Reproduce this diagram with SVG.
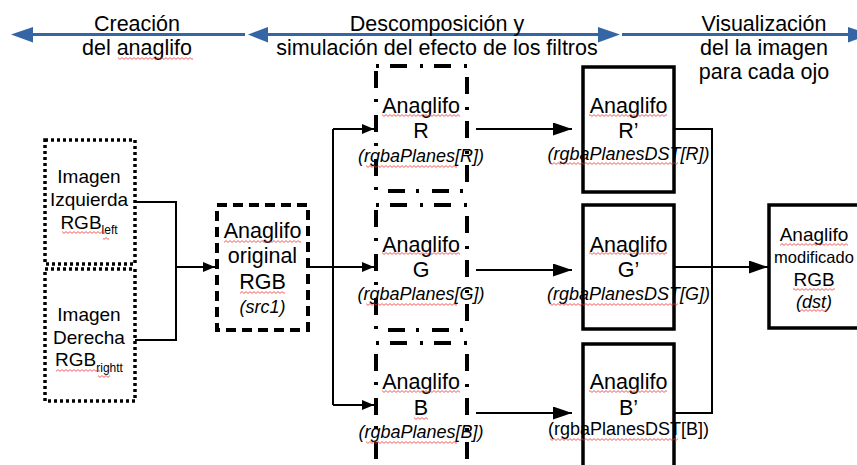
<svg xmlns="http://www.w3.org/2000/svg" width="857" height="465" viewBox="0 0 857 465">
<style>
text{font-family:"Liberation Sans",Arial,sans-serif;fill:#000;text-anchor:middle}
.h{font-size:21.5px}
.b{font-size:21.5px}
.s{font-size:19px}
.i{font-size:18px;font-style:italic}
.n{font-size:18px}
.dot{fill:#fff;stroke:#000;stroke-width:3.5;stroke-dasharray:3 3}
.dash{fill:#fff;stroke:#000;stroke-width:4;stroke-dasharray:10 6}
.dd{fill:#fff;stroke:#000;stroke-width:4;stroke-dasharray:3 11 17 13}
.sol{fill:#fff;stroke:#000;stroke-width:3.5}
.c{fill:none;stroke:#000;stroke-width:2}
.bl{stroke:#3465a4;stroke-width:3;fill:none}
.bh{fill:#3465a4}
.sq{fill:url(#sq)}
</style>
<defs>
<marker id="a1" markerUnits="userSpaceOnUse" markerWidth="12" markerHeight="10" refX="12" refY="5" orient="auto"><path d="M0,0 L12,5 L0,10z" fill="#000"/></marker>
<marker id="a2" markerUnits="userSpaceOnUse" markerWidth="19" markerHeight="13" refX="19" refY="6.5" orient="auto"><path d="M0,0 L19,6.5 L0,13z" fill="#000"/></marker>
<pattern id="sq" width="4" height="3" patternUnits="userSpaceOnUse"><path d="M0,2.4 L2,0.6 L4,2.4" fill="none" stroke="#e33" stroke-width="0.8"/></pattern>
</defs>

<g id="header">
<line class="bl" x1="30" y1="34.5" x2="245" y2="34.5"/>
<polygon class="bh" points="11,34.5 33,27 33,42.5"/>
<line class="bl" x1="265" y1="34.5" x2="600" y2="34.5"/>
<polygon class="bh" points="248,34.5 268,27 268,42.5"/>
<polygon class="bh" points="620,34.5 598,27 598,42.5"/>
<line class="bl" x1="622" y1="34.5" x2="850" y2="34.5"/>
<polygon class="bh" points="870,34.5 848,27 848,42.5"/>
<text class="h" x="137" y="31">Creación</text>
<text class="h" x="137" y="55">del anaglifo</text>
<text class="h" x="437" y="31">Descomposición y</text>
<text class="h" x="437" y="55">simulación del efecto de los filtros</text>
<text class="h" x="764" y="31">Visualización</text>
<text class="h" x="764" y="55">del la imagen</text>
<text class="h" x="764" y="79">para cada ojo</text>
</g>

<g id="connectors">
<path class="c" d="M135,202 H176 V340 H135"/>
<path class="c" d="M176,267 H215" marker-end="url(#a1)"/>
<path class="c" d="M308,267 H374" marker-end="url(#a1)"/>
<path class="c" d="M333,129 V405"/>
<path class="c" d="M333,129 H374" marker-end="url(#a1)"/>
<path class="c" d="M333,405 H374" marker-end="url(#a1)"/>
<path class="c" d="M476,129 H572" marker-end="url(#a2)"/>
<path class="c" d="M476,270 H572" marker-end="url(#a2)"/>
<path class="c" d="M476,413 H572" marker-end="url(#a2)"/>
<path class="c" d="M674,129 H712 V413 H674"/>
<path class="c" d="M674,267 H712"/>
<path class="c" d="M712,267 H768" marker-end="url(#a2)"/>
</g>

<g id="imgLeft">
<rect class="dot" x="45" y="140" width="90" height="124"/>
<text class="s" x="89" y="183">Imagen</text>
<text class="s" x="89" y="206">Izquierda</text>
<text class="s" x="89" y="229">RGB<tspan font-size="12" dy="5">left</tspan></text>
</g>
<g id="imgRight">
<rect class="dot" x="45" y="269" width="90" height="132"/>
<text class="s" x="89" y="321">Imagen</text>
<text class="s" x="89" y="344">Derecha</text>
<text class="s" x="89" y="366">RGB<tspan font-size="12" dy="6">rightt</tspan></text>
</g>
<g id="src">
<rect class="dash" x="217" y="205" width="91" height="125"/>
<text class="b" x="262.5" y="238">Anaglifo</text>
<text class="b" x="262.5" y="263">original</text>
<text class="b" x="262.5" y="289">RGB</text>
<text class="i" x="262.5" y="313">(src1)</text>
</g>
<g id="planeR">
<rect class="dd" x="376" y="66" width="91" height="125"/>
<text class="b" x="421" y="113">Anaglifo</text>
<text class="b" x="421" y="138">R</text>
<text class="i" x="421" y="162">(rgbaPlanes[R])</text>
</g>
<g id="planeG">
<rect class="dd" x="376" y="205" width="91" height="125"/>
<text class="b" x="421" y="252">Anaglifo</text>
<text class="b" x="421" y="277">G</text>
<text class="i" x="421" y="300">(rgbaPlanes[G])</text>
</g>
<g id="planeB">
<rect class="dd" x="376" y="343" width="91" height="128"/>
<text class="b" x="421" y="389">Anaglifo</text>
<text class="b" x="421" y="415">B</text>
<text class="i" x="421" y="438">(rgbaPlanes[B])</text>
</g>
<g id="dstR">
<rect class="sol" x="583" y="67" width="91" height="125"/>
<text class="b" x="628.5" y="113">Anaglifo</text>
<text class="b" x="628.5" y="138">R’</text>
<text class="i" x="628.5" y="160">(rgbaPlanesDST[R])</text>
</g>
<g id="dstG">
<rect class="sol" x="583" y="205" width="91" height="124"/>
<text class="b" x="628.5" y="252">Anaglifo</text>
<text class="b" x="628.5" y="277">G’</text>
<text class="i" x="628.5" y="300">(rgbaPlanesDST[G])</text>
</g>
<g id="dstB">
<rect class="sol" x="583" y="344" width="91" height="128"/>
<text class="b" x="628.5" y="389">Anaglifo</text>
<text class="b" x="628.5" y="415">B’</text>
<text class="n" x="628.5" y="435">(rgbaPlanesDST[B])</text>
</g>
<g id="dst">
<rect class="sol" x="769" y="205" width="94" height="123"/>
<text class="s" x="814" y="241">Anaglifo</text>
<text x="814" y="263" font-size="16.5px">modificado</text>
<text class="s" x="814" y="286">RGB</text>
<text class="i" x="814" y="308">(dst)</text>
</g>

<g id="spellcheck">
<rect class="sq" x="118" y="57" width="75" height="3"/>
<rect class="sq" x="62" y="231" width="44" height="3"/>
<rect class="sq" x="103" y="237" width="6" height="3"/>
<rect class="sq" x="56" y="369" width="44" height="3"/>
<rect class="sq" x="98" y="375" width="12" height="3"/>
<rect class="sq" x="224" y="240" width="77" height="3"/>
<rect class="sq" x="240" y="291" width="45" height="3"/>
<rect class="sq" x="382" y="114" width="78" height="3"/>
<rect class="sq" x="366" y="165" width="91" height="3"/>
<rect class="sq" x="382" y="252" width="78" height="3"/>
<rect class="sq" x="366" y="303" width="91" height="3"/>
<rect class="sq" x="382" y="390" width="78" height="3"/>
<rect class="sq" x="414" y="417" width="14" height="3"/>
<rect class="sq" x="366" y="441" width="91" height="3"/>
<rect class="sq" x="589" y="114" width="78" height="3"/>
<rect class="sq" x="550" y="162" width="128" height="3"/>
<rect class="sq" x="589" y="252" width="78" height="3"/>
<rect class="sq" x="550" y="303" width="128" height="3"/>
<rect class="sq" x="589" y="390" width="78" height="3"/>
<rect class="sq" x="550" y="438" width="128" height="3"/>
<rect class="sq" x="780" y="243" width="68" height="3"/>
<rect class="sq" x="793" y="288" width="42" height="3"/>
<rect class="sq" x="800" y="309" width="27" height="3"/>
</g>
</svg>
